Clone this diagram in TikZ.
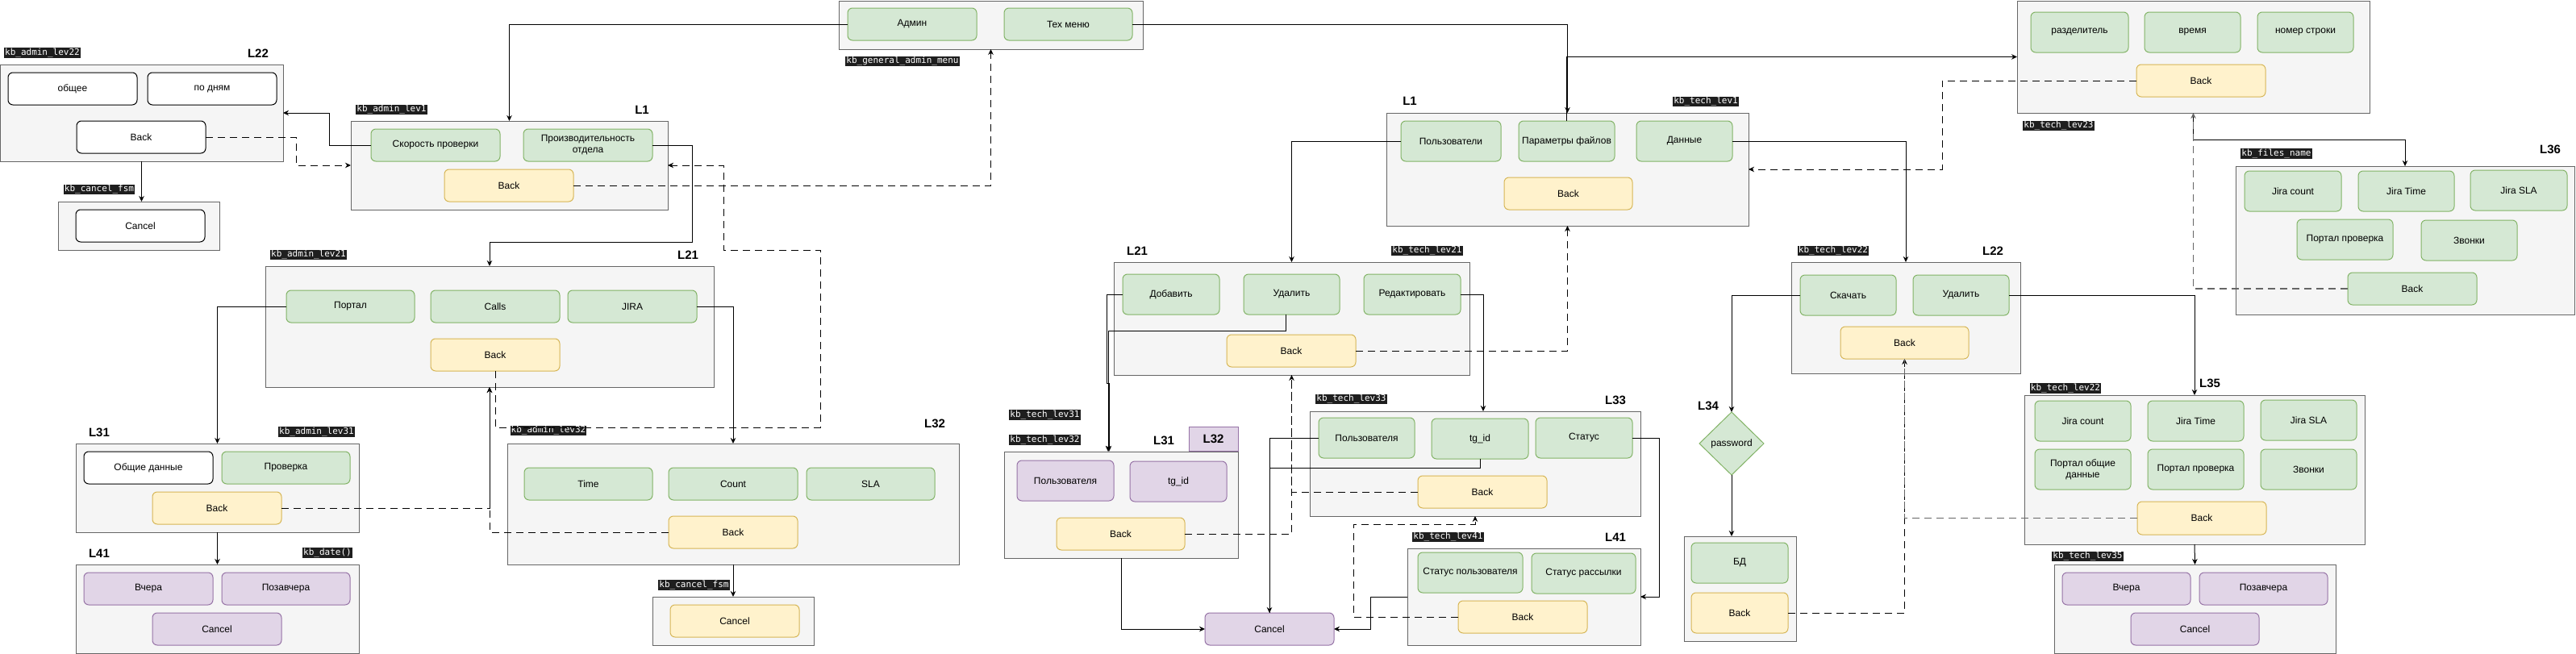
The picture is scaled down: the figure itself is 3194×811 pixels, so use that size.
\documentclass[tikz,border=0pt]{standalone}
\usepackage{fontspec}
\setmainfont{Liberation Sans}
\setmonofont{DejaVu Sans Mono}
\usetikzlibrary{arrows.meta,shapes.geometric}
\definecolor{cbg}{HTML}{F5F5F5}
\definecolor{cbd}{HTML}{666666}
\definecolor{gfill}{HTML}{D5E8D4}
\definecolor{gdraw}{HTML}{82B366}
\definecolor{yfill}{HTML}{FFF2CC}
\definecolor{ydraw}{HTML}{D6B656}
\definecolor{pfill}{HTML}{E1D5E7}
\definecolor{pdraw}{HTML}{9673A6}
\definecolor{lblbg}{HTML}{1E1E1E}
\tikzset{
 base/.style={rectangle, inner sep=0pt, outer sep=0pt, align=center, font=\fontsize{12}{14}\selectfont, line width=1pt},
 cont/.style={base, fill=cbg, draw=cbd},
 gbtn/.style={base, rounded corners=6pt, fill=gfill, draw=gdraw},
 ybtn/.style={base, rounded corners=6pt, fill=yfill, draw=ydraw},
 pbtn/.style={base, rounded corners=6pt, fill=pfill, draw=pdraw},
 wbtn/.style={base, rounded corners=6pt, fill=white, draw=black},
 kbl/.style={fill=lblbg, text=white, font=\ttfamily\fontsize{11}{12}\selectfont, inner xsep=1pt, inner ysep=1pt, text height=8pt, text depth=2.5pt},
 lvl/.style={font=\bfseries\fontsize{15}{17}\selectfont, inner sep=0pt},
 arr/.style={-{Stealth[length=7pt,width=6.5pt]}, line width=1pt},
 dsh/.style={arr, dash pattern=on 9pt off 6pt},
 gdsh/.style={dsh, draw=cbd, line width=1.5pt},
 ln/.style={line width=1pt},
}
\newcommand\bx[7]{\node[#1,minimum width={#5-#3},minimum height={#6-#4}] (#2) at ({(#3+#5)/2},{(#4+#6)/2}) {#7};}
\begin{document}
\begin{tikzpicture}[x=1pt,y=-1pt]
\useasboundingbox (0,0) rectangle (3194,811);
\fill[white] (0,0) rectangle (3194,811);

% ---------------- admin side ----------------
\bx{cont}{c_gen}{1040}{1}{1417}{61}{}
\bx{gbtn}{b_admin}{1051}{10}{1211}{50}{Админ}
\bx{gbtn}{b_techmenu}{1245}{10}{1404}{50}{Тех меню}

\bx{cont}{c_adm22}{0}{80}{351}{200}{}
\bx{wbtn}{b_obshee}{10}{90}{170}{130}{общее}
\bx{wbtn}{b_podnyam}{183}{90}{343}{130}{по дням}
\bx{wbtn}{b_back22}{95}{150}{255}{190}{Back}

\bx{cont}{c_cancel1}{72}{250}{272}{310}{}
\bx{wbtn}{b_cancel1}{94}{260}{254}{300}{Cancel}

\bx{cont}{c_adm1}{435}{150}{828}{260}{}
\bx{gbtn}{b_skor}{460}{160}{620}{200}{Скорость проверки}
\bx{gbtn}{b_proizv}{649}{160}{809}{200}{Производительность\\отдела}
\bx{ybtn}{b_back1}{551}{210}{711}{250}{Back}

\bx{cont}{c_adm21}{329}{330}{885}{480}{}
\bx{gbtn}{b_portal}{355}{360}{514}{400}{Портал}
\bx{gbtn}{b_calls}{534}{360}{694}{400}{Calls}
\bx{gbtn}{b_jira}{704}{360}{864}{400}{JIRA}
\bx{ybtn}{b_back21}{534}{420}{694}{460}{Back}

\bx{cont}{c_adm31}{94}{550}{445}{660}{}
\bx{wbtn}{b_obsdata}{104}{560}{264}{600}{Общие данные}
\bx{gbtn}{b_prov}{275}{560}{434}{600}{Проверка}
\bx{ybtn}{b_back31}{189}{610}{349}{650}{Back}

\bx{cont}{c_adm41}{94}{700}{445}{810}{}
\bx{pbtn}{b_vchera}{104}{710}{264}{750}{Вчера}
\bx{pbtn}{b_pozav}{275}{710}{434}{750}{Позавчера}
\bx{pbtn}{b_cancel41}{189}{760}{349}{800}{Cancel}

\bx{cont}{c_adm32}{629}{550}{1189}{700}{}
\bx{gbtn}{b_time}{650}{580}{809}{620}{Time}
\bx{gbtn}{b_count}{829}{580}{989}{620}{Count}
\bx{gbtn}{b_sla}{1000}{580}{1159}{620}{SLA}
\bx{ybtn}{b_back32}{829}{640}{989}{680}{Back}

\bx{cont}{c_cancel2}{809}{740}{1009}{800}{}
\bx{ybtn}{b_cancel2}{831}{750}{991}{790}{Cancel}

% ---------------- tech side ----------------
\bx{cont}{c_tech1}{1719}{140}{2168}{280}{}
\bx{gbtn}{b_users}{1737}{150}{1861}{200}{Пользователи}
\bx{gbtn}{b_params}{1883}{150}{2002}{200}{Параметры файлов}
\bx{gbtn}{b_data}{2029}{150}{2148}{200}{Данные}
\bx{ybtn}{b_tback1}{1865}{220}{2024}{260}{Back}

\bx{cont}{c_tech21}{1381}{325}{1822}{465}{}
\bx{gbtn}{b_add}{1392}{340}{1512}{390}{Добавить}
\bx{gbtn}{b_del}{1542}{340}{1661}{390}{Удалить}
\bx{gbtn}{b_edit}{1691}{340}{1811}{390}{Редактировать}
\bx{ybtn}{b_tback21}{1521}{415}{1681}{455}{Back}

\bx{cont}{c_tech31}{1245}{560}{1535}{692}{}
\node[base, fill=pfill, draw=pdraw, minimum width=61, minimum height=30, font=\bfseries\fontsize{15}{17}\selectfont] (tabL32) at (1504.5,544) {L32};
\bx{pbtn}{b_tuser31}{1261}{571}{1381}{621}{Пользователя}
\bx{pbtn}{b_tgid31}{1401}{572}{1521}{622}{tg\_id}
\bx{ybtn}{b_tback31}{1310}{642}{1469}{682}{Back}

\bx{pbtn}{b_tcancel}{1494}{760}{1654}{800}{Cancel}

\bx{cont}{c_tech33}{1624}{510}{2034}{640}{}
\bx{gbtn}{b_tuser33}{1635}{518}{1754}{568}{Пользователя}
\bx{gbtn}{b_tgid33}{1775}{519}{1895}{569}{tg\_id}
\bx{gbtn}{b_status}{1904}{518}{2024}{568}{Статус}
\bx{ybtn}{b_tback33}{1758}{590}{1918}{630}{Back}

\bx{cont}{c_tech41}{1745}{680}{2034}{800}{}
\bx{gbtn}{b_stuser}{1758}{685}{1888}{735}{Статус пользователя}
\bx{gbtn}{b_stmail}{1899}{686}{2028}{736}{Статус рассылки}
\bx{ybtn}{b_tback41}{1808}{745}{1968}{785}{Back}

\bx{cont}{c_tech22}{2221}{325}{2505}{463}{}
\bx{gbtn}{b_dl}{2232}{341}{2351}{391}{Скачать}
\bx{gbtn}{b_del22}{2372}{341}{2491}{391}{Удалить}
\bx{ybtn}{b_tback22}{2282}{405}{2441}{445}{Back}

\node[diamond, shape aspect=1, inner sep=0pt, outer sep=0pt, minimum width=80, minimum height=78, fill=gfill, draw=gdraw, line width=1pt, font=\fontsize{12}{14}\selectfont] (dia) at (2147,550) {password};

\bx{cont}{c_db}{2088}{665}{2227}{795}{}
\bx{gbtn}{b_db}{2097}{673}{2217}{723}{БД}
\bx{ybtn}{b_tback34}{2097}{735}{2217}{785}{Back}

\bx{cont}{c_tech35}{2510}{490}{2932}{675}{}
\bx{gbtn}{b_jc}{2523}{497}{2642}{547}{Jira count}
\bx{gbtn}{b_jt}{2663}{497}{2782}{547}{Jira Time}
\bx{gbtn}{b_js}{2803}{496}{2922}{546}{Jira SLA}
\bx{gbtn}{b_pod}{2523}{557}{2642}{607}{Портал общие\\данные}
\bx{gbtn}{b_pp}{2663}{557}{2782}{607}{Портал проверка}
\bx{gbtn}{b_zv}{2803}{557}{2922}{607}{Звонки}
\bx{ybtn}{b_tback35}{2650}{622}{2810}{663}{Back}

\bx{cont}{c_tech35b}{2547}{700}{2896}{810}{}
\bx{pbtn}{b_v2}{2557}{710}{2716}{750}{Вчера}
\bx{pbtn}{b_p2}{2727}{710}{2886}{750}{Позавчера}
\bx{pbtn}{b_c2}{2642}{760}{2801}{800}{Cancel}

\bx{cont}{c_tech23}{2501}{1}{2938}{140}{}
\bx{gbtn}{b_razd}{2518}{15}{2639}{65}{разделитель}
\bx{gbtn}{b_vremya}{2659}{15}{2778}{65}{время}
\bx{gbtn}{b_nomer}{2799}{15}{2918}{65}{номер строки}
\bx{ybtn}{b_tback23}{2649}{80}{2809}{120}{Back}

\bx{cont}{c_tech36}{2772}{206}{3192}{390}{}
\bx{gbtn}{b_jc3}{2783}{212}{2903}{262}{Jira count}
\bx{gbtn}{b_jt3}{2924}{212}{3043}{262}{Jira Time}
\bx{gbtn}{b_js3}{3063}{211}{3183}{261}{Jira SLA}
\bx{gbtn}{b_pp3}{2848}{272}{2967}{322}{Портал проверка}
\bx{gbtn}{b_zv3}{3002}{273}{3121}{323}{Звонки}
\bx{gbtn}{b_back36}{2911}{338}{3071}{378}{Back}

% ---------------- level labels ----------------
\node[lvl] (l_a22) at (320,66) {L22};
\node[lvl] (l_a1) at (796,136) {L1};
\node[lvl] (l_a21) at (853,316) {L21};
\node[lvl] (l_a31) at (123,536) {L31};
\node[lvl] (l_a41) at (123,686) {L41};
\node[lvl] (l_a32) at (1159,525) {L32};
\node[lvl] (l_t1) at (1748,125) {L1};
\node[lvl] (l_t21) at (1410,311) {L21};
\node[lvl] (l_t31) at (1443,546) {L31};
\node[lvl] (l_t33) at (2003,496) {L33};
\node[lvl] (l_t41) at (2003,666) {L41};
\node[lvl] (l_t22) at (2471,311) {L22};
\node[lvl] (l_t34) at (2118,503) {L34};
\node[lvl] (l_t35) at (2740,475) {L35};
\node[lvl] (l_t36) at (3162,185) {L36};

% ---------------- keyboard names ----------------
\node[kbl] (k1) at (52.5,65.5) {kb\_admin\_lev22};
\node[kbl] (k2) at (123,235) {kb\_cancel\_fsm};
\node[kbl] (k3) at (485.5,136) {kb\_admin\_lev1};
\node[kbl] (k4) at (1119,76) {kb\_general\_admin\_menu};
\node[kbl] (k5) at (382.5,316) {kb\_admin\_lev21};
\node[kbl] (k6) at (392.5,535.5) {kb\_admin\_lev31};
\node[kbl] (k7) at (406,685.5) {kb\_date()};
\node[kbl] (k8) at (680,534) {kb\_admin\_lev32};
\node[kbl] (k9) at (860.5,725.5) {kb\_cancel\_fsm};
\node[kbl] (k10) at (2115,126) {kb\_tech\_lev1};
\node[kbl] (k11) at (1769.5,311) {kb\_tech\_lev21};
\node[kbl] (k12) at (1295.5,514.5) {kb\_tech\_lev31};
\node[kbl] (k13) at (1295.5,545.5) {kb\_tech\_lev32};
\node[kbl] (k14) at (1675.5,495) {kb\_tech\_lev33};
\node[kbl] (k15) at (1795.5,666) {kb\_tech\_lev41};
\node[kbl] (k16) at (2273,311) {kb\_tech\_lev22};
\node[kbl] (k17) at (2561,481.5) {kb\_tech\_lev22};
\node[kbl] (k18) at (2588.5,690) {kb\_tech\_lev35};
\node[kbl] (k19) at (2552.5,156) {kb\_tech\_lev23};
\node[kbl] (k20) at (2822.5,190.5) {kb\_files\_name};

% ---------------- connectors: admin ----------------
\draw[arr] (b_admin.west) -| (c_adm1.north);
\draw[arr] (b_skor.west) -- ++(-52,0) |- (c_adm22.east);
\draw[dsh] (b_back22.east) -- ++(112,0) |- (c_adm1.west);
\draw[arr] (c_adm22.south) -- (c_adm22.south |- c_cancel1.north);
\draw[arr] (b_proizv.east) -- ++(49,0) -- ++(0,120) -| (c_adm21.north);
\draw[dsh] (b_back1.east) -| (c_gen.south);
\draw[dsh] (b_back21.south) -- ++(0,70) -- ++(403,0) -- ++(0,-220) -- ++(-120,0) |- (c_adm1.east);
\draw[dsh] (b_back31.east) -| (c_adm21.south);
\draw[dsh] (b_back32.west) -| (c_adm21.south);
\draw[arr] (b_portal.west) -| (c_adm31.north);
\draw[arr] (b_jira.east) -| (c_adm32.north);
\draw[arr] (c_adm31.south) -- (c_adm41.north);
\draw[arr] (c_adm32.south) -- (c_cancel2.north);

% ---------------- connectors: tech ----------------
\draw[arr] (b_techmenu.east) -| (c_tech1.north);
\draw[arr] (b_params.north) |- (c_tech23.west);
\draw[arr] (b_users.west) -| (c_tech21.north);
\draw[dsh] (b_tback21.east) -| (c_tech1.south);
\draw[arr] (b_add.west) -- ++(-20,0) -- ++(0,110) -- ++(3,0) -- ([xshift=130pt]c_tech31.north west);
\draw[arr] ([xshift=-7pt]b_del.south) -- ++(0,20) -| ([xshift=129pt]c_tech31.north west);
\draw[arr] (b_edit.east) -| ([xshift=215pt]c_tech33.north west);
\draw[arr] (b_tuser33.west) -| (b_tcancel.north);
\draw[ln] (b_tgid33.south) -- ++(0,11) -| (b_tcancel.north);
\draw[arr] (b_status.east) -- ++(33,0) |- (c_tech41.east);
\draw[arr] (c_tech41.west) -- ++(-46,0) |- (b_tcancel.east);
\draw[arr] (c_tech31.south) |- (b_tcancel.west);
\draw[dsh] (b_tback31.east) -| (c_tech21.south);
\draw[dsh,-] (b_tback33.west) -| (c_tech21.south);
\draw[dsh] (b_tback41.west) -- ++(-130,0) -- ++(0,-115) -| (c_tech33.south);
\draw[arr] (b_data.east) -| (c_tech22.north);
\draw[dsh] (b_tback23.west) -- ++(-241,0) |- (c_tech1.east);
\draw[arr] (c_tech23.south) -- ++(0,33) -| (c_tech36.north);
\draw[gdsh] (b_back36.west) -| (c_tech23.south);
\draw[arr] (b_dl.west) -| (dia.north);
\draw[arr] (dia.south) -- (dia.south |- c_db.north);
\draw[dsh] (b_tback34.east) -| (b_tback22.south);
\draw[gdsh,-] (b_tback35.west) -| (b_tback22.south);
\draw[arr] (b_del22.east) -| (c_tech35.north);
\draw[arr] (c_tech35.south) -- (c_tech35b.north);
\end{tikzpicture}
\end{document}
